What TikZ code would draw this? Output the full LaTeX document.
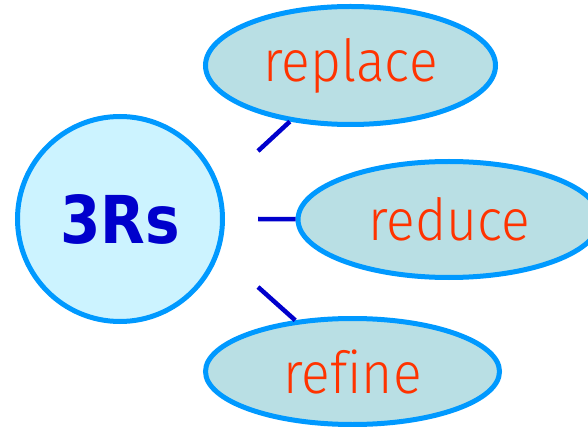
\documentclass[tikz,border=0pt]{standalone}
\usepackage{fontspec}
\usetikzlibrary{shapes.geometric}
\newfontfamily\hubfont{DejaVu Sans}
\newfontfamily\leaffont[Ligatures=NoCommon]{Fira Sans Light}
\definecolor{edgeblue}{HTML}{0099FF}
\definecolor{hubfill}{HTML}{CCF3FF}
\definecolor{leaffill}{HTML}{B9DFE4}
\definecolor{darkblue}{HTML}{0000CC}
\definecolor{leaftext}{HTML}{FF3300}
\tikzset{
  hub/.style={circle, draw=edgeblue, fill=hubfill, line width=5pt, minimum size=205pt, inner sep=0pt,
    font=\hubfont\bfseries\fontsize{66}{70}\selectfont, text=darkblue},
  leaf/.style={ellipse, draw=edgeblue, fill=leaffill, line width=5pt, inner sep=0pt,
    font=\leaffont\fontsize{58}{62}\selectfont, text=leaftext},
  link/.style={draw=darkblue, line width=4.5pt}
}
\begin{document}
\begin{tikzpicture}[x=1pt,y=-1pt]
\useasboundingbox (0,0) rectangle (588,427);
\clip (0,0) rectangle (588,427);
\coordinate (c1) at (258,151);
\coordinate (c2) at (258,219);
\coordinate (c3) at (258,287);
\node[hub] (hub) at (120,219) {\scalebox{0.88}[1]{3Rs}};
\node[leaf, minimum width=290pt, minimum height=118pt] (rep) at (350.5,65.5) {\scalebox{0.92}[1]{replace}};
\node[leaf, minimum width=302pt, minimum height=116pt] (red) at (449,219.5) {\scalebox{0.92}[1]{reduce}};
\node[leaf, minimum width=294pt, minimum height=106pt] (ref) at (352.5,371.5) {\scalebox{0.92}[1]{refine}};
\draw[link] (c1) -- (rep);
\draw[link] (c2) -- (red);
\draw[link] (c3) -- (ref);
\end{tikzpicture}
\end{document}
